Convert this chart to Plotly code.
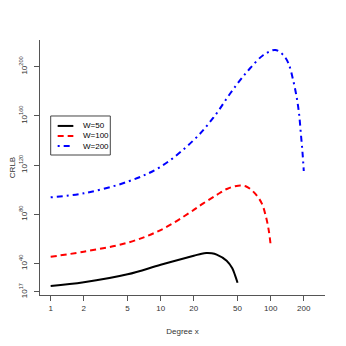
import plotly.graph_objects as go

# degree x and log10(CRLB), one pair of lists per window width
x_w50 = [1, 2, 5, 10, 20, 23.6, 26, 29.1, 32.3, 39.8, 44.8, 47.3, 50]
e_w50 = [21.7, 24.7, 31.2, 39.0, 46.3, 48.0, 48.5, 48.3, 47.2, 42.3, 36.1, 30.7, 24.4]

x_w100 = [1, 2, 5, 10, 18.5, 24.4, 32.3, 40, 50.7, 60.5, 72, 83, 90.6, 96, 100]
e_w100 = [45.5, 49.6, 56.9, 67.2, 81.5, 88.9, 95.7, 100.6, 103.3, 102.4, 97.0, 88.9, 78.0, 67.2, 55.0]

x_w200 = [1, 2, 5, 10, 20, 30, 43, 53, 65, 86, 110, 130, 145, 160, 172, 181, 188, 195, 200]
e_w200 = [93.8, 97.1, 106.5, 118.7, 140.4, 158.3, 178.4, 189.2, 198.7, 209.5, 213.6, 209.5,
          202.8, 189.2, 175.6, 162.1, 145.9, 129.6, 115.2]

x_ticks = [1, 2, 5, 10, 20, 50, 100, 200]
y_tick_exps = [17, 40, 80, 120, 160, 200]

series = [
    ("W=50", x_w50, e_w50, "black", "solid"),
    ("W=100", x_w100, e_w100, "red", "6px,4px"),
    ("W=200", x_w200, e_w200, "blue", "2px,4px,6px,4px"),
]

fig = go.Figure()
for name, xs, es, col, dash in series:
    fig.add_trace(go.Scatter(
        x=xs, y=[10.0 ** e for e in es], name=name, mode="lines",
        line=dict(color=col, width=2, dash=dash, shape="spline", smoothing=1.0),
    ))

font_family = "Liberation Sans, Arial, sans-serif"
axis_font = dict(family=font_family, size=8, color="#333")

# legend drawn by hand: plotly's own legend rows are twice as tall as R's
fig.add_shape(type="rect", xref="paper", yref="paper",
              x0=0.0375, x1=0.2467, y0=0.549, y1=0.702,
              line=dict(color="#444", width=1), fillcolor="white", layer="above")
row_y = [0.663, 0.624, 0.584]
for (name, xs, es, col, dash), ry in zip(series, row_y):
    fig.add_shape(type="line", xref="paper", yref="paper",
                  x0=0.062, x1=0.117, y0=ry, y1=ry,
                  line=dict(color=col, width=2, dash=dash))
    fig.add_annotation(x=0.143, y=ry, xref="paper", yref="paper",
                       text=name, showarrow=False, xanchor="left", yanchor="middle",
                       font=dict(family=font_family, size=8, color="black"))

# page body has an 8px margin, so the figure is 8px smaller and the plot area shifted
fig.update_layout(
    width=338, height=338,
    margin=dict(l=32, r=21, t=32, b=51),
    paper_bgcolor="white", plot_bgcolor="white",
    font=axis_font,
    showlegend=False,
    xaxis=dict(
        type="log", range=[-0.097, 2.494], automargin=False,
        tickvals=x_ticks, ticktext=[str(v) for v in x_ticks],
        ticks="outside", ticklen=5, tickcolor="#555",
        showline=True, linecolor="#555", linewidth=1,
        showgrid=False, zeroline=False,
        title=dict(text="Degree x", standoff=16, font=axis_font),
    ),
    yaxis=dict(
        type="log", range=[14.4, 221.7], automargin=False,
        tickvals=[10.0 ** e for e in y_tick_exps],
        ticktext=["10<sup>%d</sup>" % e for e in y_tick_exps],
        tickangle=-90, ticklabelstandoff=4,
        ticks="outside", ticklen=5, tickcolor="#555",
        showline=True, linecolor="#555", linewidth=1,
        showgrid=False, zeroline=False,
        title=dict(text="CRLB", standoff=22, font=axis_font),
    ),
)

fig.write_html("out.html")
